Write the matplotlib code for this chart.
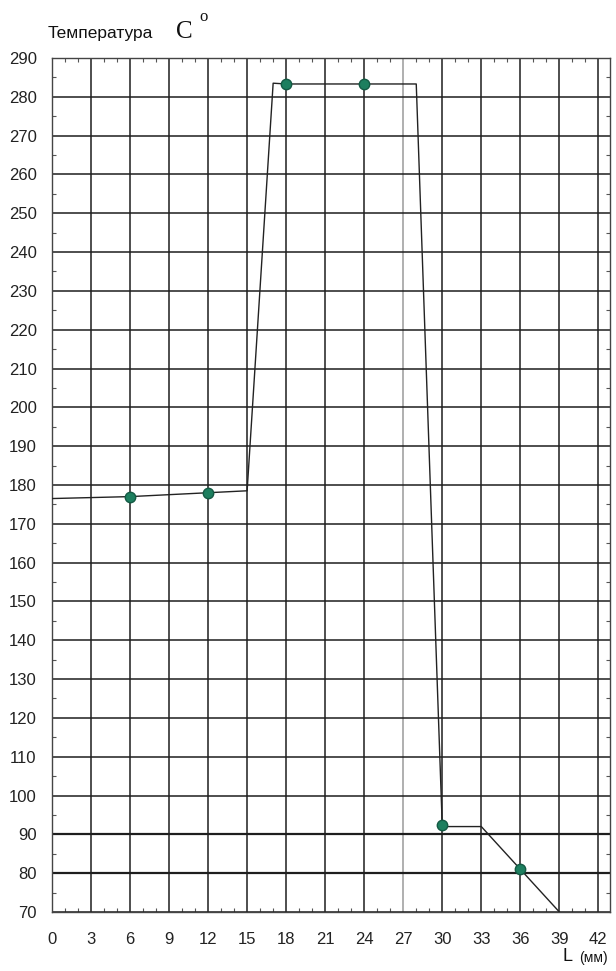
import matplotlib
matplotlib.use("Agg")
import matplotlib.pyplot as plt
from matplotlib.ticker import MultipleLocator

plt.rcParams['font.family'] = ['Liberation Sans', 'DejaVu Sans']

# curve (L in mm, temperature in C)
line_x = [0, 6, 12, 15, 17, 18, 24, 28, 30, 33, 39]
line_y = [176.5, 177, 178, 178.5, 283.5, 283.3, 283.3, 283.3, 92, 92, 70]
# measured points
pts_x = [6, 12, 18, 24, 30, 36]
pts_y = [177, 178, 283.3, 283.3, 92.5, 81]

x_ticks = list(range(0, 43, 3))
y_ticks = list(range(70, 291, 10))

fig = plt.figure(figsize=(6.16, 9.71), dpi=100)
ax = fig.add_axes([0.0844, 0.0608, 0.906, 0.8795])

ax.set_xlim(0, 42.9)
ax.set_ylim(70, 290)
ax.set_xticks(x_ticks)
ax.set_yticks(y_ticks)
ax.xaxis.set_minor_locator(MultipleLocator(1))
ax.yaxis.set_minor_locator(MultipleLocator(5))
ax.grid(True, which="major", color="#1e1e1e", linewidth=1.1)
# scan look: one lighter vertical line, heavier 80/90 lines
ax.get_xgridlines()[x_ticks.index(27)].set_color("#9a9a9a")
for v in (80, 90):
    ax.get_ygridlines()[y_ticks.index(v)].set_linewidth(1.6)
ax.tick_params(which="both", direction="in", top=True, right=True, colors="#555555",
               labelcolor="#222222", labelsize=12)
ax.tick_params(axis="x", which="major", length=0, pad=14.5)
ax.tick_params(axis="y", which="major", length=0, pad=11)
ax.tick_params(which="minor", length=3, width=0.8)
for s in ax.spines.values():
    s.set_color("#444444")
    s.set_linewidth(1.0)

ax.plot(line_x, line_y, color="#222222", linewidth=1.0, zorder=3)
ax.plot(pts_x, pts_y, linestyle="none", marker="o", markersize=7.5,
        markerfacecolor="#1d7f5f", markeredgecolor="#145a44", zorder=4)

fig.text(0.077, 0.966, "Температура", fontsize=12.5, color="#111111", va="center")
fig.text(0.286, 0.967, "C", fontsize=18, family="Liberation Serif", color="#111111", va="center")
fig.text(0.323, 0.982, "o", fontsize=12, family="Liberation Serif", color="#111111", va="center")
fig.text(0.913, 0.006, "L", fontsize=13, color="#111111", ha="left", va="bottom")
fig.text(0.940, 0.006, "(мм)", fontsize=10, color="#111111", ha="left", va="bottom")

fig.savefig("out.png", dpi=100)
